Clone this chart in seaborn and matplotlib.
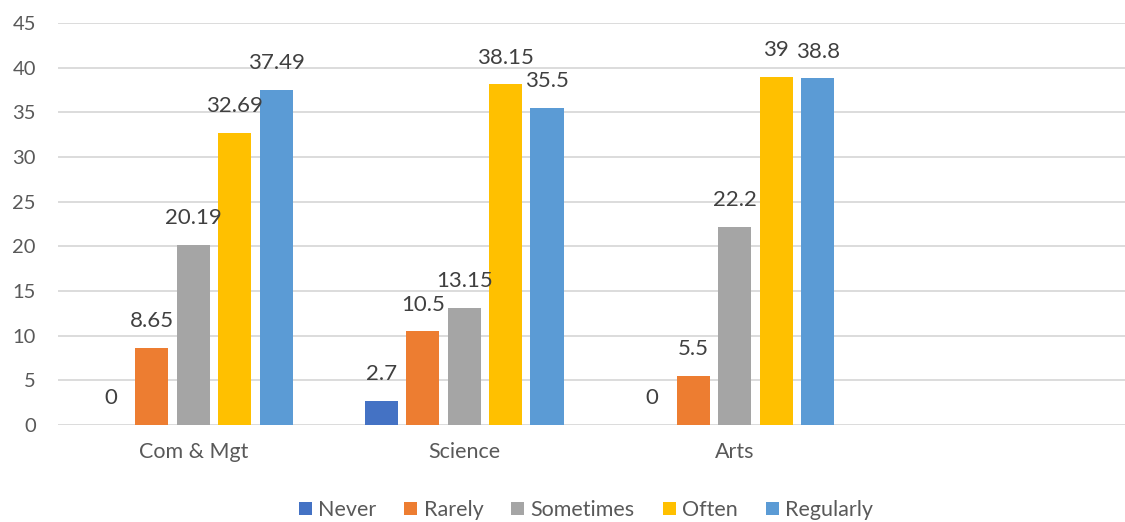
import matplotlib
matplotlib.use("Agg")
import matplotlib.pyplot as plt
import seaborn as sns
import pandas as pd
from matplotlib.patches import Patch

# Survey responses (%) by field of study
fields = ["Com & Mgt", "Science", "Arts"]
frequencies = ["Never", "Rarely", "Sometimes", "Often", "Regularly"]
never = [0, 2.7, 0]
rarely = [8.65, 10.5, 5.5]
sometimes = [20.19, 13.15, 22.2]
often = [32.69, 38.15, 39]
regularly = [37.49, 35.5, 38.8]
y_ticks = [0, 5, 10, 15, 20, 25, 30, 35, 40, 45]

colors = ["#4472C4", "#ED7D31", "#A5A5A5", "#FFC000", "#5B9BD5"]

series = [never, rarely, sometimes, often, regularly]
rows = []
for freq, vals in zip(frequencies, series):
    for field, v in zip(fields, vals):
        rows.append({"Field": field, "Frequency": freq, "Percent": v})
df = pd.DataFrame(rows)

sns.set_theme(style="white")
plt.rcParams["font.family"] = ["Lato", "DejaVu Sans"]

fig = plt.figure(figsize=(11.25, 5.22), dpi=100)
ax = fig.add_axes([58 / 1125, 1 - 425 / 522, 1 - 58 / 1125, (425 - 23) / 522])

sns.barplot(data=df, x="Field", y="Percent", hue="Frequency",
            order=fields, hue_order=frequencies, palette=colors,
            width=0.766, gap=0.2, saturation=1, legend=False, ax=ax,
            linewidth=0, errorbar=None)

for cont in ax.containers:
    ax.bar_label(cont, labels=[f"{b.get_height():g}" for b in cont],
                 padding=12, fontsize=16, color="#404040")

ax.set_ylim(0, 45)
ax.set_yticks(y_ticks)
ax.set_xlim(-0.5, 3.5 - 16 / 271)
ax.set_xlabel("")
ax.set_ylabel("")
ax.yaxis.grid(True, color="#d9d9d9", linewidth=1.3)
ax.set_axisbelow(True)
for s in ax.spines.values():
    s.set_visible(False)
ax.tick_params(axis="y", length=0, pad=16, labelsize=14.5, labelcolor="#595959")
ax.tick_params(axis="x", length=0, pad=12, labelsize=15.5, labelcolor="#595959")

handles = [Patch(facecolor=c, edgecolor="none", label=f) for c, f in zip(colors, frequencies)]
fig.legend(handles=handles, loc="center", bbox_to_anchor=(586 / 1125, 1 - 510 / 522),
           ncol=5, frameon=False, fontsize=15.5, handlelength=0.6, handleheight=0.6,
           handletextpad=0.3, columnspacing=1.3, labelcolor="#595959")

fig.savefig("out.png", dpi=100)
